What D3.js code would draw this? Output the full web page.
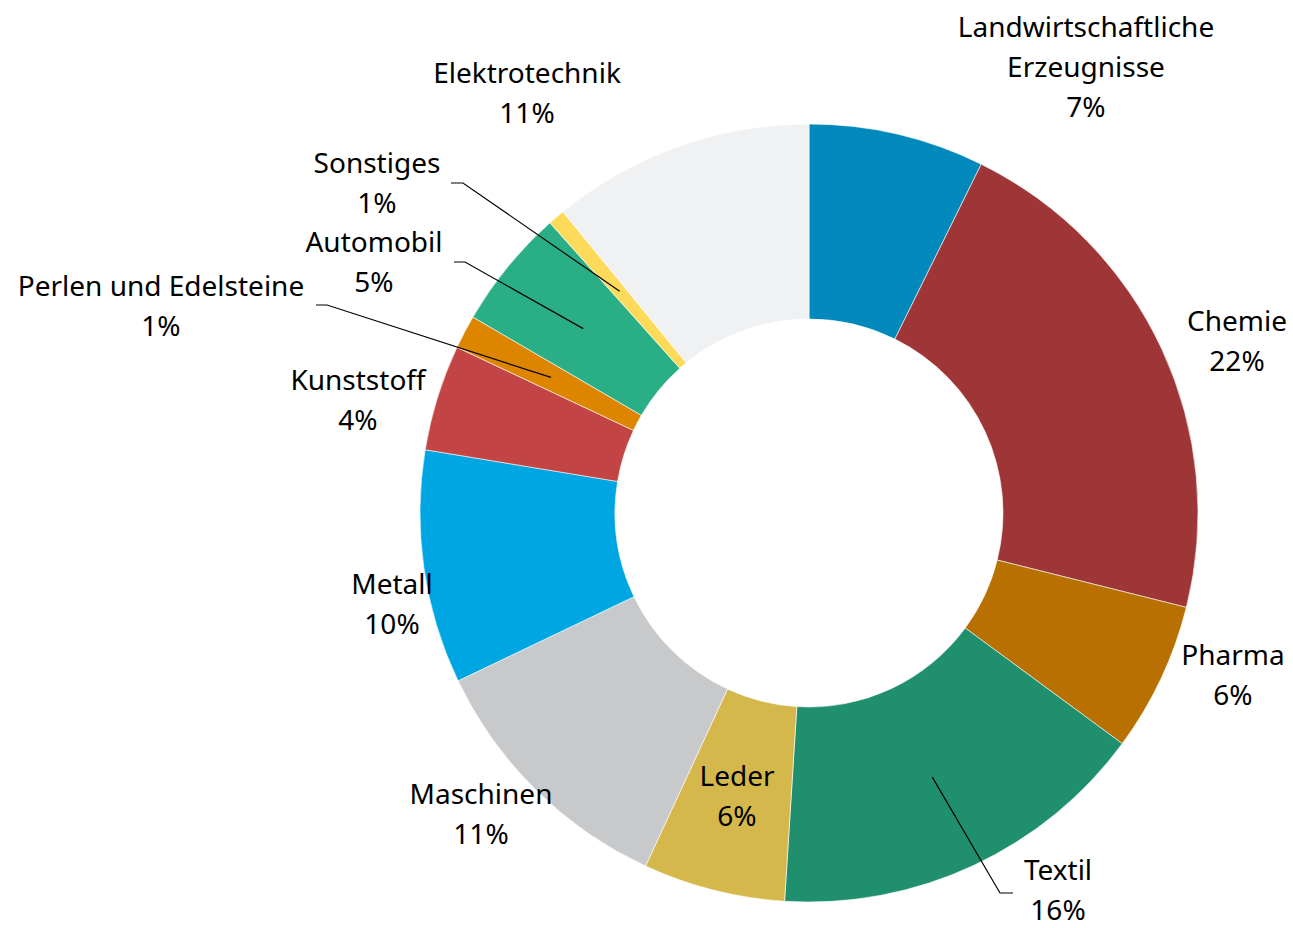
<!DOCTYPE html>
<html>
<head>
<meta charset="utf-8">
<script src="https://cdn.jsdelivr.net/npm/d3@7"></script>
<style>
  body { margin: 0; background: #fff; }
  text { font-family: "Noto Sans", Lato, sans-serif; font-size: 28px; fill: #000; }
</style>
</head>
<body>
<div id="chart"></div>
<script>
// data, clockwise from 12 o'clock (share in %)
var categories = ["Landwirtschaftliche Erzeugnisse", "Chemie", "Pharma", "Textil", "Leder",
    "Maschinen", "Metall", "Kunststoff", "Perlen und Edelsteine", "Automobil", "Sonstiges", "Elektrotechnik"];
var shares = [7.3, 21.6, 6.2, 15.9, 5.9, 11.0, 9.7, 4.4, 1.4, 5.0, 0.7, 10.9];
var colors = ["#0089ba", "#9e3536", "#b87000", "#208f6e", "#d4b84c", "#c8c9cb",
    "#00a6e2", "#c24444", "#de8500", "#2aae86", "#fdda5a", "#f0f1f3"];

// label layout: text lines, first baseline, and optional leader elbow
var labelLayout = {
    "Landwirtschaftliche Erzeugnisse": { lines: ["Landwirtschaftliche", "Erzeugnisse"], x: 1086, y: 37 },
    "Chemie": { lines: ["Chemie"], x: 1237, y: 331 },
    "Pharma": { lines: ["Pharma"], x: 1233, y: 665 },
    "Textil": { lines: ["Textil"], x: 1058, y: 880, elbow: [1000, 893], end: [1013, 893] },
    "Leder": { lines: ["Leder"], x: 737, y: 786 },
    "Maschinen": { lines: ["Maschinen"], x: 481, y: 804 },
    "Metall": { lines: ["Metall"], x: 392, y: 594 },
    "Kunststoff": { lines: ["Kunststoff"], x: 358, y: 390 },
    "Perlen und Edelsteine": { lines: ["Perlen und Edelsteine"], x: 161, y: 296, elbow: [327, 305], end: [316, 305] },
    "Automobil": { lines: ["Automobil"], x: 374, y: 252, elbow: [465, 262], end: [454, 262] },
    "Sonstiges": { lines: ["Sonstiges"], x: 377, y: 173, elbow: [463, 183], end: [451, 183] },
    "Elektrotechnik": { lines: ["Elektrotechnik"], x: 527, y: 83 }
};

var width = 1293, height = 928;
var cx = 809, cy = 513;
var outerR = 389, innerR = 194;
var lineGap = 40;

var svg = d3.select("#chart")
    .append("svg")
    .attr("width", width)
    .attr("height", height);

var table = categories.map(function (c, i) {
    return { name: c, value: shares[i], color: colors[i] };
});
var total = d3.sum(shares);

var pie = d3.pie()
    .sort(null)
    .value(function (d) { return d.value; });

var arc = d3.arc()
    .innerRadius(innerR)
    .outerRadius(outerR);

var g = svg.append("g")
    .attr("transform", "translate(" + cx + "," + cy + ")");

var arcs = pie(table);

g.selectAll("path.slice")
    .data(arcs)
    .enter()
    .append("path")
    .attr("class", "slice")
    .attr("d", arc)
    .style("fill", function (d) { return d.data.color; })
    .style("stroke", "#fff")
    .style("stroke-width", 0.6);

// leader lines, from slice centroid to the label
svg.selectAll("polyline.leader")
    .data(arcs.filter(function (d) { return labelLayout[d.data.name].elbow; }))
    .enter()
    .append("polyline")
    .attr("class", "leader")
    .attr("points", function (d) {
        var c = arc.centroid(d);
        var L = labelLayout[d.data.name];
        return [[c[0] + cx, c[1] + cy], L.elbow, L.end].map(function (p) { return p.join(","); }).join(" ");
    })
    .style("fill", "none")
    .style("stroke", "#000")
    .style("stroke-width", 1.2);

// labels
var labels = svg.selectAll("text.lbl")
    .data(arcs)
    .enter()
    .append("text")
    .attr("class", "lbl")
    .attr("text-anchor", "middle");

labels.each(function (d) {
    var L = labelLayout[d.data.name];
    var t = d3.select(this);
    var rows = L.lines.concat([Math.round(d.data.value / total * 100) + "%"]);
    rows.forEach(function (r, i) {
        t.append("tspan")
            .attr("x", L.x)
            .attr("y", L.y + i * lineGap)
            .text(r);
    });
});
</script>
</body>
</html>
